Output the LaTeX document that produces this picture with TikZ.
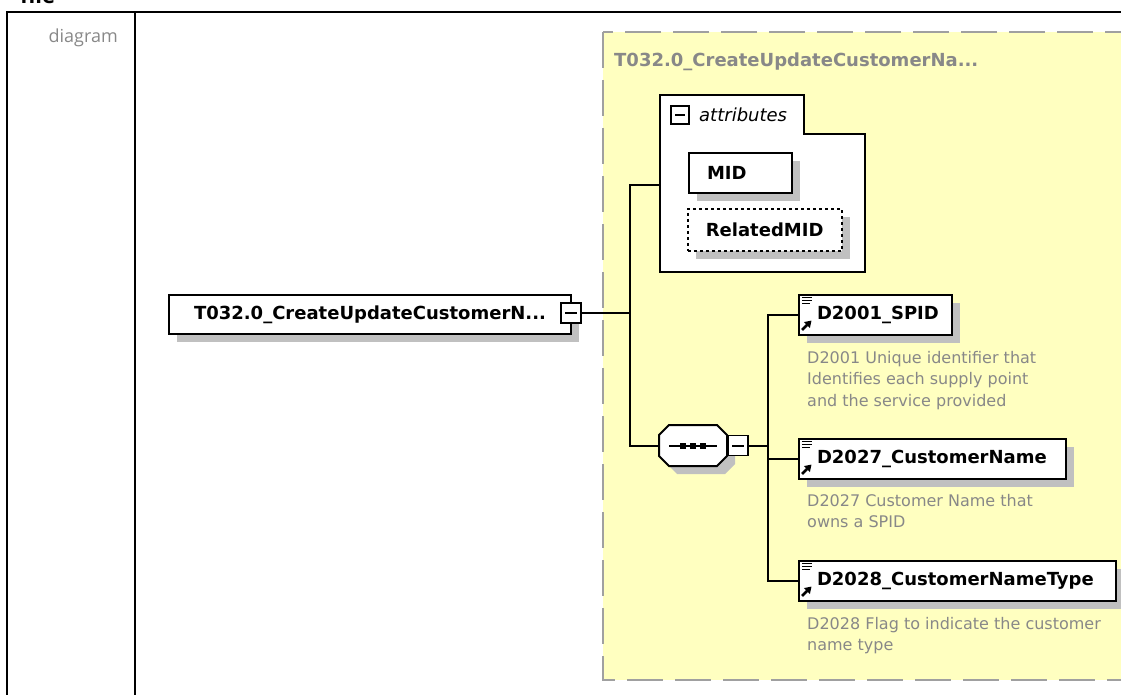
\documentclass[tikz,border=0pt]{standalone}
\usepackage{fontspec}
\setmainfont{DejaVu Sans}
\newfontfamily\labelfont{Open Sans}
\usepackage{xcolor}
\usetikzlibrary{arrows.meta,positioning,shadows}
\definecolor{xsdyellow}{HTML}{FFFFC0}
\definecolor{xsdgray}{HTML}{888888}
\definecolor{xsdshadow}{HTML}{C0C0C0}
\definecolor{xsddash}{HTML}{A0A0A0}

\begin{document}
\begin{tikzpicture}[
    x=1pt, y=-1pt,
    elem/.style={rectangle, draw, fill=white, line width=2pt, anchor=north west,
                 minimum height=40pt, inner xsep=18pt, inner ysep=0pt, align=left,
                 font=\fontsize{18}{20}\selectfont\bfseries,
                 drop shadow={shadow xshift=8pt, shadow yshift=-8pt, fill=xsdshadow, opacity=1}},
    optattr/.style={elem, line width=1.6pt, dash pattern=on 3pt off 3pt},
    minusbox/.style={rectangle, draw, fill=white, line width=1.8pt, minimum size=20pt, inner sep=0pt,
                 path picture={\draw[line width=2pt] ([xshift=4pt]path picture bounding box.west)
                   -- ([xshift=-4pt]path picture bounding box.east);}},
    seqbox/.style={rectangle, minimum width=68pt, minimum height=41pt, inner sep=0pt},
    desc/.style={anchor=north west, inner sep=0pt, align=left, text=xsdgray,
                 font=\fontsize{16}{21.5}\selectfont},
    conn/.style={line width=2pt}
  ]
    \useasboundingbox (0,0) rectangle (1121,695);

    % table frame
    \node[anchor=base west, inner sep=0pt, font=\labelfont\fontsize{22}{24}\selectfont\bfseries] (file) at (20,3.5) {file};
    \draw[line width=2.5pt] (7,720) -- (7,12) -- (1140,12);
    \draw[line width=2.5pt] (135,12) -- (135,720);
    \node[anchor=base east, inner sep=0pt, text=xsdgray, font=\labelfont\fontsize{18}{20}\selectfont] (diag) at (118,43) {diagram};

    % complex type area
    \draw[xsddash, line width=2.5pt, dash pattern=on 36pt off 12pt, fill=xsdyellow] (603,32) rectangle (1160,680);
    \node[anchor=base west, inner sep=0pt, text=xsdgray, font=\fontsize{18}{20}\selectfont\bfseries] (title) at (614,67) {T032.0\_CreateUpdateCustomerNa...};

    % attributes
    \draw[line width=2pt, fill=white] (660,95) -- (804,95) -- (804,134) -- (865,134) -- (865,272) -- (660,272) -- cycle;
    \node[minusbox, minimum size=18pt] (attrx) at (680,115) {};
    \node[anchor=base west, inner sep=0pt, font=\fontsize{18}{20}\selectfont\itshape] (attrlbl) at (699,122) {attributes};
    \node[elem, text width=67pt] (mid) at (688,152) {MID};
    \node[optattr, text width=118pt, minimum height=42pt] (relmid) at (687,208) {RelatedMID};

    % root element and sequence
    \node[elem, text width=366pt, minimum height=39pt, align=center] (root) at (168,294) {T032.0\_CreateUpdateCustomerN...};
    \node[minusbox] (rootx) at (571,313) {};
    \node[seqbox] (seq) at (693,445.5) {};
    \fill[xsdshadow, shift={(seq.center)}, xshift=8pt, yshift=-8pt]
      (-24,-20.5) -- (24,-20.5) -- (34,-10.5) -- (34,10.5) -- (24,20.5) -- (-24,20.5) -- (-34,10.5) -- (-34,-10.5) -- cycle;
    \draw[line width=2pt, fill=white, shift={(seq.center)}]
      (-24,-20.5) -- (24,-20.5) -- (34,-10.5) -- (34,10.5) -- (24,20.5) -- (-24,20.5) -- (-34,10.5) -- (-34,-10.5) -- cycle;
    \node[minusbox] (seqx) at (738,445.5) {};

    \draw[line width=2pt] ([xshift=-24pt]seq.center) -- ([xshift=24pt]seq.center);
    \foreach \dx in {-10,0,10}
      \fill[shift={(seq.center)}] (\dx-3,-3) rectangle (\dx+3,3);

    % child elements
    \node[elem, text width=117pt] (spid)  at (798,294) {D2001\_SPID};
    \node[elem, text width=231pt] (cname) at (798,438) {D2027\_CustomerName};
    \node[elem, text width=281pt] (ctype) at (798,560) {D2028\_CustomerNameType};

    \foreach \n in {spid,cname,ctype} {
      \draw[line width=1.5pt, shift={(\n.north west)}] (4,3.5) -- (14,3.5) (4,6.5) -- (14,6.5) (4,9.5) -- (12,9.5);
      \draw[line width=2.6pt, -{Triangle[length=6.5pt,width=8pt]}, shift={(\n.north west)}] (4,36) -- (13.5,26.5);
    }

    \node[desc] (spiddesc)  at (807,351) {D2001 Unique identifier that\\Identifies each supply point\\and the service provided};
    \node[desc] (cnamedesc) at (807,494) {D2027 Customer Name that\\owns a SPID};
    \node[desc] (ctypedesc) at (807,617) {D2028 Flag to indicate the customer\\name type};

    % connectors
    \coordinate (trunk)  at (630,313);
    \coordinate (attrin) at (660,185);
    \coordinate (branch) at (768,445.5);
    \draw[conn] (rootx.east) -- (trunk);
    \draw[conn] (attrin) -| (trunk) |- (seq.west);
    \draw[conn] (seqx.east) -- (branch);
    \foreach \n in {spid,cname,ctype}
      \draw[conn] (branch) |- (\n.west);
  \end{tikzpicture}
\end{document}
